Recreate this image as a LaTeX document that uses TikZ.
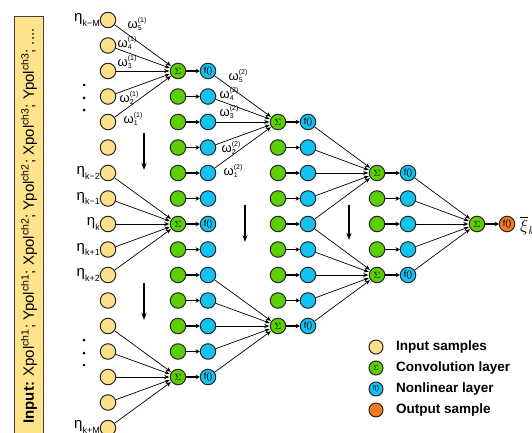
\documentclass[tikz,border=0pt]{standalone}
\usepackage{fontspec}
\setmainfont{Liberation Sans}
\usetikzlibrary{arrows.meta}

\definecolor{inyellow}{HTML}{FFE08A}
\definecolor{boxyellow}{HTML}{FFE48C}
\definecolor{convgreen}{HTML}{5CCF00}
\definecolor{nlblue}{HTML}{12C3F2}
\definecolor{outorange}{HTML}{F57A22}

\newcommand\lowidx[1]{\raisebox{-0.3em}{\fontsize{9}{9}\selectfont #1}}
\newcommand\wlab[2]{ω\rlap{\raisebox{-2.5pt}{\fontsize{7}{7}\selectfont #2}}\raisebox{5.5pt}{\fontsize{7}{7}\selectfont (#1)}}

\tikzset{
  neuron/.style={circle, draw=black!85, line width=1pt, minimum size=15.5pt, inner sep=0pt},
  insample/.style={neuron, fill=inyellow},
  conv/.style={neuron, fill=convgreen},
  nonlin/.style={neuron, fill=nlblue},
  outsample/.style={neuron, fill=outorange},
  symb/.style={inner sep=0pt, font=\fontsize{9}{9}\selectfont},
  wire/.style={-{Stealth[length=5pt,width=4pt]}, line width=0.7pt, shorten >=0.5pt},
  pass/.style={-{Stealth[length=4pt,width=4.5pt]}, line width=1.5pt},
  downarrow/.style={-{Stealth[length=7pt,width=5pt]}, line width=1.2pt},
  wlabel/.style={inner sep=0pt, font=\fontsize{13}{13}\selectfont},
  etalabel/.style={anchor=east, inner sep=0pt, font=\fontsize{15}{15}\selectfont},
  legtext/.style={anchor=west, inner sep=0pt, font=\fontsize{13.5}{13.5}\selectfont\bfseries}
}

\begin{document}
\begin{tikzpicture}[x=1pt,y=-1pt]
\useasboundingbox (0,0) rectangle (532,433);

% input box
\draw[fill=boxyellow, draw=black!75, line width=0.8pt] (14,16) rectangle (43,470);
\node[rotate=90, inner sep=0pt, font=\fontsize{15}{15}\selectfont] (intext) at (29,226)
  {\textbf{Input:} Xpol\textsuperscript{ch1}; Ypol\textsuperscript{ch1}; Xpol\textsuperscript{ch2}; Ypol\textsuperscript{ch2}; Xpol\textsuperscript{ch3}; Ypol\textsuperscript{ch3}; ....};

% input samples
\foreach \i in {0,...,16}
  \node[insample] (in\i) at (108,{20+25.5*\i}) {};
\node[etalabel] (eta0) at (100,20) {η\lowidx{k−M}};
\node[etalabel] (eta6) at (100,173) {η\lowidx{k−2}};
\node[etalabel] (eta7) at (100,198.5) {η\lowidx{k−1}};
\node[etalabel] (eta8) at (100,224) {η\lowidx{k}};
\node[etalabel] (eta9) at (100,249.5) {η\lowidx{k+1}};
\node[etalabel] (eta10) at (100,275) {η\lowidx{k+2}};
\node[etalabel] (eta16) at (100,427) {η\lowidx{k+M}};
\foreach \y in {85,98,110,340,353,365}
  \fill (84,\y) circle (1.5pt);

% layer 1
\foreach \i in {2,...,14} {
  \node[conv] (ga\i) at (178,{20+25.5*\i}) {};
  \node[nonlin] (ba\i) at (208,{20+25.5*\i}) {};
  \draw[pass] (ga\i) -- (ba\i);
}
\foreach \s in {2,8,14} {
  \node[symb] (siga\s) at (ga\s) {$\Sigma$};
  \node[symb] (fa\s) at (ba\s) {f()};
  \foreach \d in {-2,...,2} {
    \pgfmathtruncatemacro\src{\s+\d}
    \draw[wire] (in\src) -- (ga\s);
  }
}

% layer 2
\foreach \i in {4,...,12} {
  \node[conv] (gb\i) at (278,{20+25.5*\i}) {};
  \node[nonlin] (bb\i) at (308,{20+25.5*\i}) {};
  \draw[pass] (gb\i) -- (bb\i);
}
\foreach \s in {4,12} {
  \node[symb] (sigb\s) at (gb\s) {$\Sigma$};
  \node[symb] (fb\s) at (bb\s) {f()};
  \foreach \d in {-2,...,2} {
    \pgfmathtruncatemacro\src{\s+\d}
    \draw[wire] (ba\src) -- (gb\s);
  }
}

% layer 3
\foreach \i in {6,...,10} {
  \node[conv] (gc\i) at (377,{20+25.5*\i}) {};
  \node[nonlin] (bc\i) at (408,{20+25.5*\i}) {};
  \draw[pass] (gc\i) -- (bc\i);
}
\foreach \s in {6,10} {
  \node[symb] (sigc\s) at (gc\s) {$\Sigma$};
  \node[symb] (fc\s) at (bc\s) {f()};
  \foreach \d in {-2,...,2} {
    \pgfmathtruncatemacro\src{\s+\d}
    \draw[wire] (bb\src) -- (gc\s);
  }
}

% output
\node[conv] (gd8) at (477,224) {};
\node[symb] (sigd8) at (gd8) {$\Sigma$};
\node[outsample] (out) at (507,224) {};
\node[symb] (fout) at (out) {f()};
\draw[pass] (gd8) -- (out);
\foreach \i in {6,...,10}
  \draw[wire] (bc\i) -- (gd8);
\node[anchor=west, inner sep=0pt, font=\fontsize{16}{16}\selectfont] (xi) at (520,226) {$\overline{\xi}_k$};

% weights
\node[wlabel] (w15) at (137,24) {\wlab{1}{5}};
\node[wlabel] (w14) at (127,43) {\wlab{1}{4}};
\node[wlabel] (w13) at (127,62) {\wlab{1}{3}};
\node[wlabel] (w12) at (129,98) {\wlab{1}{2}};
\node[wlabel] (w11) at (133,119) {\wlab{1}{1}};
\node[wlabel] (w25) at (238,76) {\wlab{2}{5}};
\node[wlabel] (w24) at (229,94) {\wlab{2}{4}};
\node[wlabel] (w23) at (229,112) {\wlab{2}{3}};
\node[wlabel] (w22) at (231,148) {\wlab{2}{2}};
\node[wlabel] (w21) at (233,171) {\wlab{2}{1}};

% shift arrows
\coordinate (dA1) at (144,133); \coordinate (dA2) at (144,170);
\coordinate (dB1) at (144,283); \coordinate (dB2) at (144,320);
\coordinate (dC1) at (245,205); \coordinate (dC2) at (245,242);
\coordinate (dD1) at (349,205); \coordinate (dD2) at (349,240);
\draw[downarrow] (dA1) -- (dA2);
\draw[downarrow] (dB1) -- (dB2);
\draw[downarrow] (dC1) -- (dC2);
\draw[downarrow] (dD1) -- (dD2);

% legend
\node[insample, minimum size=14pt] (leg1) at (376,347) {};
\node[conv, minimum size=14pt] (leg2) at (376,368) {};
\node[symb, font=\fontsize{7}{7}\selectfont] (leg2s) at (leg2) {$\Sigma$};
\node[nonlin, minimum size=14pt] (leg3) at (376,389) {};
\node[symb, font=\fontsize{7}{7}\selectfont] (leg3s) at (leg3) {f()};
\node[outsample, minimum size=14pt] (leg4) at (376,410) {};
\node[legtext] (lt1) at (396,347) {Input samples};
\node[legtext] (lt2) at (396,368) {Convolution layer};
\node[legtext] (lt3) at (396,389) {Nonlinear layer};
\node[legtext] (lt4) at (396,410) {Output sample};
\end{tikzpicture}
\end{document}
